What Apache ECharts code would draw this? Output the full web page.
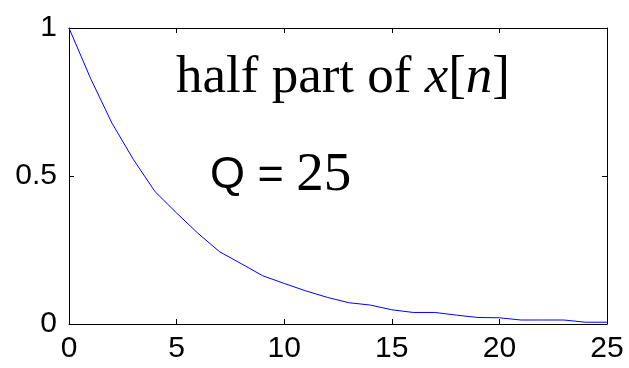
<!DOCTYPE html>
<html lang="en">
<head>
    <meta charset="UTF-8">
    <title>half part of x[n]</title>
    <script type="text/javascript" src="https://cdn.jsdelivr.net/npm/echarts@6/dist/echarts.min.js"></script>
    <style>
        html, body { margin: 0; padding: 0; background: #fff; }
    </style>
</head>
<body>
<div id="main" style="width: 629px;height:368px;"></div>
<script type="text/javascript">
    // samples n = 0..25
    var nValues = [0, 1, 2, 3, 4, 5, 6, 7, 8, 9, 10, 11, 12, 13, 14, 15, 16, 17, 18, 19, 20, 21, 22, 23, 24, 25];
    var xValues = [1, 0.83, 0.678, 0.555, 0.447, 0.375, 0.306, 0.244, 0.204, 0.163, 0.137, 0.112, 0.090, 0.072,
        0.064, 0.048, 0.039, 0.039, 0.030, 0.022, 0.021, 0.0135, 0.0135, 0.0135, 0.006, 0.006];
    var xTicks = [0, 5, 10, 15, 20, 25];
    var yTicks = [0, 0.5, 1];

    var points = [];
    for (var i = 0; i < nValues.length; i++) {
        points.push([nValues[i], xValues[i]]);
    }

    var sans = 'Liberation Sans';
    var serif = 'Liberation Serif';

    var axisLine = { show: true, onZero: false, lineStyle: { color: '#000', width: 1 } };
    var axisTick = { show: true, inside: true, length: 5, lineStyle: { color: '#000', width: 1 } };

    var myChart = echarts.init(document.getElementById('main'));
    var option = {
        animation: false,
        grid: { left: 69, right: 22, top: 28, bottom: 44, show: false },
        xAxis: [{
            type: 'value',
            min: xTicks[0],
            max: xTicks[xTicks.length - 1],
            interval: 5,
            axisLine: axisLine,
            axisTick: axisTick,
            splitLine: { show: false },
            axisLabel: { fontFamily: sans, fontSize: 30, color: '#000', margin: 10 }
        }, {
            type: 'value',
            position: 'top',
            min: xTicks[0],
            max: xTicks[xTicks.length - 1],
            interval: 5,
            axisLine: axisLine,
            axisTick: axisTick,
            splitLine: { show: false },
            axisLabel: { show: false }
        }],
        yAxis: [{
            type: 'value',
            min: yTicks[0],
            max: yTicks[yTicks.length - 1],
            interval: 0.5,
            axisLine: axisLine,
            axisTick: axisTick,
            splitLine: { show: false },
            axisLabel: { fontFamily: sans, fontSize: 30, color: '#000', margin: 12 }
        }, {
            type: 'value',
            position: 'right',
            min: yTicks[0],
            max: yTicks[yTicks.length - 1],
            interval: 0.5,
            axisLine: axisLine,
            axisTick: axisTick,
            splitLine: { show: false },
            axisLabel: { show: false }
        }],
        series: [{
            type: 'line',
            data: points,
            showSymbol: false,
            symbol: 'none',
            lineStyle: { color: '#0000ff', width: 1 },
            z: 3
        }],
        graphic: [{
            type: 'text',
            left: 176,
            top: 52,
            style: {
                text: 'half part of {i|x}[{i|n}]',
                fontFamily: serif,
                fontSize: 53,
                fill: '#000',
                rich: {
                    i: { fontFamily: serif, fontSize: 53, fontStyle: 'italic', fill: '#000' }
                }
            }
        }, {
            type: 'text',
            left: 210,
            top: 148,
            style: {
                text: '{q|Q = }{d|25}',
                fontFamily: serif,
                fontSize: 55,
                fill: '#000',
                rich: {
                    q: { fontFamily: sans, fontSize: 45, fill: '#000' },
                    d: { fontFamily: serif, fontSize: 55, fill: '#000' }
                }
            }
        }]
    };
    myChart.setOption(option);
</script>
</body>
</html>
